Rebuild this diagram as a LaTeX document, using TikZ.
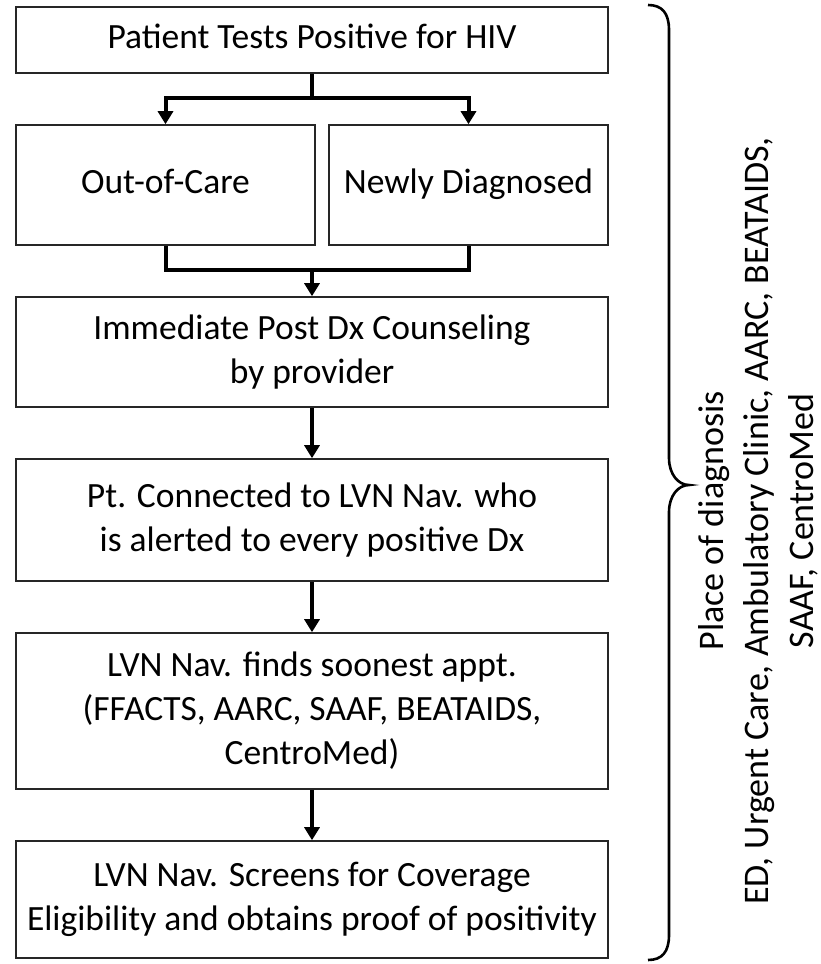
\documentclass[tikz,border=0pt]{standalone}
\usepackage{fontspec}
\setmainfont{Carlito}
\usetikzlibrary{arrows.meta}
\begin{document}
\begin{tikzpicture}[x=1pt,y=-1pt,
  box/.style={draw=black!85,line width=1.6pt,align=center,inner sep=0pt,
    font=\fontsize{35.5}{44}\selectfont},
  conn/.style={line width=4pt,black},
  arr/.style={conn,-{Triangle[length=13pt,width=15pt]}}]
\useasboundingbox (0,0) rectangle (821,964);
\node[box,minimum width=592pt,minimum height=66pt] (b1) at (312,40) {Patient Tests Positive for HIV\strut};
\node[box,minimum width=299pt,minimum height=120pt] (out) at (165.5,185) {Out-of-Care\strut};
\node[box,minimum width=279pt,minimum height=120pt] (newd) at (468.5,185) {Newly Diagnosed\strut};
\node[box,minimum width=592pt,minimum height=110pt] (b3) at (312,352) {Immediate Post Dx Counseling\\by provider};
\node[box,minimum width=592pt,minimum height=122pt] (b4) at (312,520) {Pt. Connected to LVN Nav. who\\is alerted to every positive Dx};
\node[box,minimum width=592pt,minimum height=156pt] (b5) at (312,711) {LVN Nav. finds soonest appt.\\(FFACTS, AARC, SAAF, BEATAIDS,\\CentroMed)};
\node[box,minimum width=592pt,minimum height=117pt] (b6) at (312,899.5) {LVN Nav. Screens for Coverage\\Eligibility and obtains proof of positivity};
\coordinate (split) at (312,98);
\coordinate (merge) at (312,270);
\draw[conn] (b1.south) -- (split);
\draw[arr] (split) -| (out.north);
\draw[arr] (split) -| (newd.north);
\draw[conn] (out.south) |- (merge) -| (newd.south);
\draw[arr] (merge) -- (b3.north);
\draw[arr] (b3.south) -- (b4.north);
\draw[arr] (b4.south) -- (b5.north);
\draw[arr] (b5.south) -- (b6.north);
\draw[line width=2.6pt] (648,5) .. controls (662,5) and (669,13) .. (669,30) -- (669,458)
  .. controls (669,474) and (678,485) .. (689,485)
  .. controls (678,485) and (669,496) .. (669,512) -- (669,935)
  .. controls (669,952) and (662,960) .. (648,960);
\node[rotate=90,align=center,font=\fontsize{36}{45}\selectfont] (place) at (758,521)
  {Place of diagnosis\\ED, Urgent Care, Ambulatory Clinic, AARC, BEATAIDS,\\SAAF, CentroMed};
\end{tikzpicture}
\end{document}
